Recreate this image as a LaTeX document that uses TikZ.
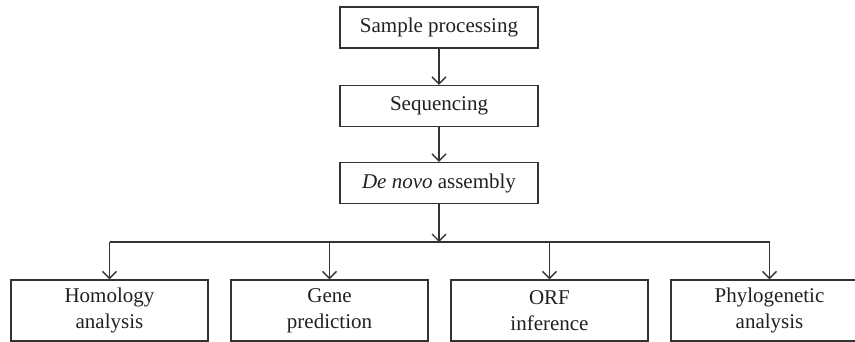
\documentclass[tikz,border=0pt]{standalone}
\usepackage{fontspec}
\setmainfont{Liberation Serif}
\usetikzlibrary{arrows.meta}
\definecolor{linec}{HTML}{333333}
\definecolor{textc}{HTML}{231F20}
\tikzset{
  box/.style={draw=linec, line width=1.4pt, minimum width=198pt, minimum height=41pt, inner sep=0pt,
    font=\fontsize{21}{26}\selectfont, text=textc, align=center},
  lowbox/.style={box, minimum width=197pt, minimum height=61pt},
  conn/.style={draw=linec, line width=1.3pt},
  arr/.style={conn, -{Straight Barb[length=7pt,width=14pt,line width=1.3pt]}}
}
\begin{document}
\begin{tikzpicture}[x=1pt,y=-1pt]
\useasboundingbox (0,0) rectangle (855,342);
\clip (0,0) rectangle (855,342);
\node[box] (samp) at (439,27.5) {Sample processing};
\node[box] (seq) at (439,106) {Sequencing};
\node[box] (denovo) at (439,183) {\textit{De novo} assembly};
\node[lowbox] (hom) at (109.5,310.5) {Homology\\analysis};
\node[lowbox] (gene) at (329.5,310.5) {Gene\\prediction};
\node[lowbox] (orf) at (549.5,310.5) {ORF\\inference};
\node[lowbox] (phy) at (769.5,310.5) {Phylogenetic\\analysis};
\coordinate (j) at (439,242);
\coordinate (j1) at (hom.north |- j);
\coordinate (j2) at (gene.north |- j);
\coordinate (j3) at (orf.north |- j);
\coordinate (j4) at (phy.north |- j);
\draw[arr] (samp) -- (seq);
\draw[arr] (seq) -- (denovo);
\draw[arr] (denovo) -- (j);
\draw[conn] (j1) -- (j4);
\draw[arr] (j1) -- (hom);
\draw[arr] (j2) -- (gene);
\draw[arr] (j3) -- (orf);
\draw[arr] (j4) -- (phy);
\end{tikzpicture}
\end{document}
